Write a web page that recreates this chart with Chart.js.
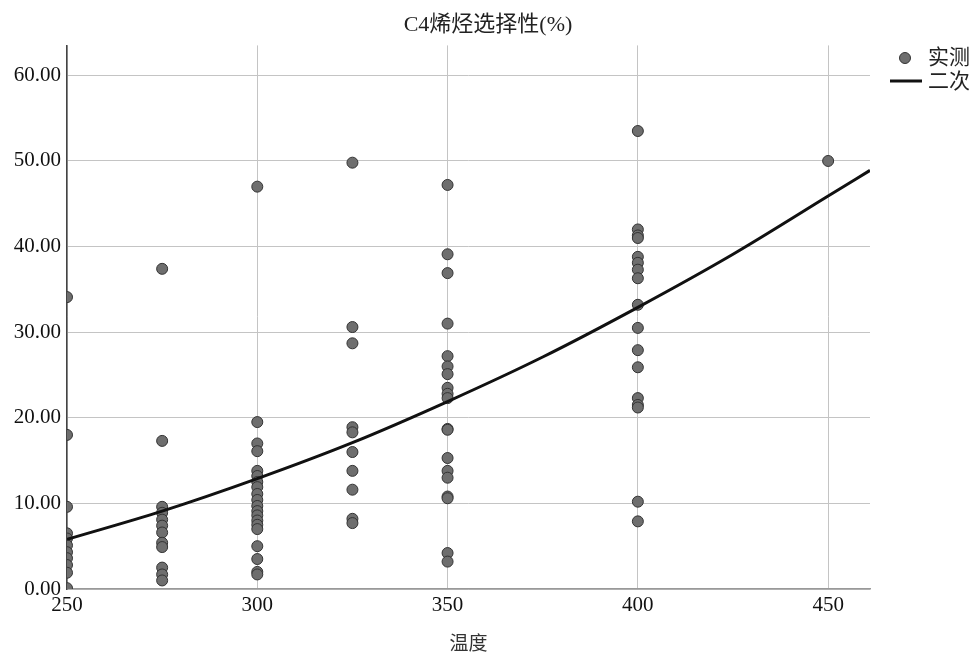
<!DOCTYPE html>
<html>
<head>
<meta charset="utf-8">
<script src="https://cdn.jsdelivr.net/npm/chart.js@4/dist/chart.umd.min.js"></script>
<style>
  html, body { margin: 0; padding: 0; background: #fff; }
  #wrap { width: 976px; height: 656px; }
</style>
</head>
<body>
<div id="wrap"><canvas id="c" width="976" height="656"></canvas></div>
<script>
// temperature levels and the measured selectivity at each of them
const tempLevels = [250, 275, 300, 325, 350, 400, 450];
const measured250 = [34.1, 18.0, 9.6, 6.5, 5.9, 5.1, 4.3, 3.6, 2.8, 1.9, 0.1];
const measured275 = [37.4, 17.3, 9.6, 8.9, 8.1, 7.4, 6.6, 5.4, 4.9, 2.5, 1.7, 1.0];
const measured300 = [47.0, 19.5, 17.0, 16.1, 13.8, 13.2, 12.5, 11.9, 11.1, 10.4, 9.7, 9.1, 8.6, 8.0, 7.5, 7.0, 5.0, 3.5, 2.0, 1.7];
const measured325 = [49.8, 30.6, 28.7, 18.9, 18.3, 16.0, 13.8, 11.6, 8.2, 7.7];
const measured350 = [47.2, 39.1, 36.9, 31.0, 27.2, 26.0, 25.1, 23.5, 22.8, 22.3, 18.7, 18.6, 15.3, 13.8, 13.0, 10.8, 10.6, 4.2, 3.2];
const measured400 = [53.5, 42.0, 41.3, 41.0, 38.8, 38.1, 37.3, 36.3, 33.2, 30.5, 27.9, 25.9, 22.3, 21.5, 21.2, 10.2, 7.9];
const measured450 = [50.0];
const measuredByTemp = [measured250, measured275, measured300, measured325, measured350, measured400, measured450];

// quadratic fit curve
const fitTemps  = [250, 275, 300, 325, 350, 375, 400, 425, 450, 461];
const fitValues = [5.8, 9.1, 12.9, 17.1, 21.9, 27.1, 32.9, 39.1, 45.9, 48.9];

const xTicks = [250, 300, 350, 400, 450];
const titleText = 'C4烯烃选择性(%)';
const xTitle = '温度';
const legendLabels = ['实测', '二次'];

const FONT = "'Liberation Serif', 'Noto Sans CJK SC', serif";

const points = [];
tempLevels.forEach((t, i) => measuredByTemp[i].forEach(v => points.push({ x: t, y: v })));
const fitPoints = fitTemps.map((t, i) => ({ x: t, y: fitValues[i] }));

// small legend drawn at the top right, like the original
const sideLegend = {
  id: 'sideLegend',
  afterDraw(chart){
    const ctx = chart.ctx;
    ctx.save();
    ctx.beginPath();
    ctx.arc(905, 58, 5.5, 0, Math.PI * 2);
    ctx.fillStyle = '#6e6e6e'; ctx.fill();
    ctx.lineWidth = 1; ctx.strokeStyle = '#333'; ctx.stroke();
    ctx.beginPath();
    ctx.moveTo(890, 81); ctx.lineTo(922, 81);
    ctx.lineWidth = 3; ctx.strokeStyle = '#111'; ctx.stroke();
    ctx.font = "21px " + FONT;
    ctx.fillStyle = '#222';
    ctx.textBaseline = 'middle';
    ctx.fillText(legendLabels[0], 928, 58);
    ctx.fillText(legendLabels[1], 928, 82);
    ctx.restore();
  }
};

new Chart(document.getElementById('c'), {
  type: 'scatter',
  data: {
    datasets: [
      { label: legendLabels[0], data: points, pointRadius: 5.5, pointHoverRadius: 5.5,
        backgroundColor: '#6e6e6e', borderColor: '#333', borderWidth: 1, clip: 0, order: 2 },
      { type: 'line', label: legendLabels[1], data: fitPoints, borderColor: '#111', borderWidth: 3,
        pointRadius: 0, cubicInterpolationMode: 'monotone', fill: false, clip: 0, order: 1 }
    ]
  },
  options: {
    responsive: false, animation: false,
    layout: { padding: 0 },
    plugins: {
      legend: { display: false },
      tooltip: { enabled: false },
      title: { display: true, text: titleText, color: '#222',
        font: { family: FONT, size: 22, weight: 'normal' }, padding: { top: 12, bottom: 7 } }
    },
    scales: {
      x: {
        type: 'linear', min: 250, max: 461,
        afterBuildTicks: s => { s.ticks = xTicks.map(v => ({ value: v })); },
        afterFit: s => { s.height = 67; },
        grid: { color: '#c4c4c4', drawTicks: false },
        border: { color: '#999', width: 1.5 },
        ticks: { color: '#111', padding: 4, font: { family: FONT, size: 21 } },
        title: { display: true, text: xTitle, color: '#333', padding: { top: 0, bottom: 0 },
          font: { family: FONT, size: 19 } }
      },
      y: {
        min: 0, max: 63.5,
        ticks: { stepSize: 10, includeBounds: false, color: '#111', padding: 6,
          font: { family: FONT, size: 21 }, callback: v => v.toFixed(2) },
        afterFit: s => { s.width = 67; },
        grid: { color: '#c4c4c4', drawTicks: false },
        border: { color: '#444', width: 1.5 }
      },
      // empty right strip that leaves room for the legend
      side: {
        position: 'right', min: 0, max: 1,
        afterFit: s => { s.width = 106; },
        grid: { display: false }, border: { display: false }, ticks: { display: false }
      }
    }
  },
  plugins: [sideLegend]
});
</script>
</body>
</html>
